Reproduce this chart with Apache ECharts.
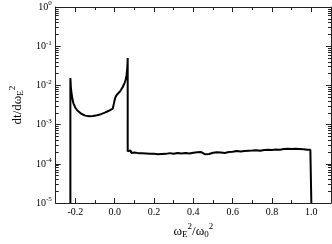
<!DOCTYPE html>
<html><head><meta charset="utf-8">
<script src="https://cdn.jsdelivr.net/npm/echarts@6/dist/echarts.min.js"></script>
<style>html,body{margin:0;padding:0;background:#fff}#c{width:332px;height:244px}</style>
</head><body><div id="c"></div>
<script>
var xs = [-0.2255,-0.2255,-0.223,-0.22,-0.215,-0.21,-0.2,-0.19,-0.18,-0.17,-0.16,-0.15,-0.14,-0.13,-0.12,-0.11,-0.1,-0.09,-0.08,-0.07,-0.06,-0.05,-0.04,-0.03,-0.02,-0.01,0.0,0.002,0.005,0.01,0.02,0.03,0.04,0.05,0.055,0.06,0.063,0.065,0.066,0.066,
0.07,0.075,0.08,0.085,0.09,0.1,0.11,0.12,0.13,0.14,0.15,0.16,0.17,0.18,0.19,0.2,0.21,0.22,0.23,0.24,0.25,0.26,0.28,0.3,0.32,0.34,0.36,0.38,0.4,0.42,0.43,0.44,0.45,0.46,0.47,0.48,0.5,0.52,0.54,0.55,0.56,0.58,0.6,0.62,0.63,0.64,0.66,0.67,0.68,0.7,0.71,0.72,0.74,0.76,0.77,0.78,0.8,0.82,0.84,0.86,0.87,0.88,0.9,0.91,0.92,0.94,0.96,0.97,0.98,0.99,0.995,1.0,1.0];
var ys = [1e-5,0.0155,0.009,0.0065,0.0045,0.0035,0.0027,0.0023,0.00205,0.0019,0.00178,0.0017,0.00166,0.00164,0.00164,0.00166,0.00169,0.00173,0.00178,0.00185,0.00193,0.00202,0.00213,0.00226,0.0024,0.00256,0.0027,0.0048,0.0053,0.0057,0.0064,0.0074,0.009,0.0115,0.0138,0.018,0.025,0.035,0.05,0.00021,
2.15e-4,1.95e-4,2.2e-4,1.9e-4,2.1e-4,1.95e-4,2.1e-4,1.88e-4,2.04e-4,1.86e-4,2.05e-4,1.84e-4,1.98e-4,1.82e-4,1.92e-4,1.8e-4,1.9e-4,1.76e-4,1.92e-4,1.78e-4,1.88e-4,1.8e-4,1.88e-4,1.82e-4,1.9e-4,1.84e-4,1.9e-4,1.85e-4,1.92e-4,1.98e-4,1.84e-4,2.0e-4,1.86e-4,1.76e-4,1.94e-4,1.78e-4,1.92e-4,1.98e-4,1.94e-4,2.1e-4,1.9e-4,2.0e-4,2.04e-4,2.12e-4,1.96e-4,2.06e-4,2.14e-4,2.0e-4,2.16e-4,2.18e-4,2.06e-4,2.24e-4,2.16e-4,2.26e-4,2.12e-4,2.28e-4,2.26e-4,2.32e-4,2.3e-4,2.38e-4,2.32e-4,2.42e-4,2.4e-4,2.34e-4,2.44e-4,2.4e-4,2.36e-4,2.44e-4,2.28e-4,2.42e-4,2.3e-4,2.3e-4,1e-5];
var xMajor = [-0.2,0.0,0.2,0.4,0.6,0.8,1.0];
var xMinor = [-0.1,0.1,0.3,0.5,0.7,0.9];
var yMajor = [1e-5,1e-4,1e-3,1e-2,1e-1,1];
var yMinor = [];
[1e-5,1e-4,1e-3,1e-2,1e-1].forEach(function(d){for(var k=2;k<=9;k++){yMinor.push(+(d*k).toPrecision(3));}});

var F = 'Liberation Serif';
var line = {show:true, onZero:false, lineStyle:{color:'#222', width:1}};
var noLine = {show:false, onZero:false};
function xAx(pos, ticks, len, labels, showLine, extra){
  var a = {type:'value', min:-0.3, max:1.1, position:pos, axisLine: showLine?line:noLine,
    splitLine:{show:false},
    axisTick:{show:true, inside:true, length:len, customValues:ticks, lineStyle:{color:'#222'}},
    axisLabel: labels ? {show:true, customValues:ticks, formatter:function(v){return v.toFixed(1);}, fontFamily:F, fontSize:10, color:'#000', margin:4} : {show:false}};
  return Object.assign(a, extra||{});
}
function yAx(pos, ticks, len, labels, showLine, extra){
  var a = {type:'log', logBase:10, min:1e-5, max:1, position:pos, axisLine: showLine?line:noLine,
    splitLine:{show:false},
    axisTick:{show:true, inside:true, length:len, customValues:ticks, lineStyle:{color:'#222'}},
    axisLabel: labels ? {show:true, customValues:ticks, fontFamily:F, color:'#000', margin:4,
      formatter:function(v){return '{b|10}{s|' + Math.round(Math.log10(v)) + '}';},
      rich:{b:{fontFamily:F, fontSize:10, color:'#000'}, s:{fontFamily:F, fontSize:7, color:'#000', padding:[0,0,7,0]}}} : {show:false}};
  return Object.assign(a, extra||{});
}
var chart = echarts.init(document.getElementById('c'), null, {renderer:'canvas'});
chart.setOption({
  backgroundColor:'#fff',
  animation:false,
  grid:{left:42, right:1, top:5, bottom:35, containLabel:false},
  xAxis:[
    xAx('bottom', xMajor, 5, true, true, {
      name:'ω{sub|E}{sup|2}/ω{sub|0}{sup|2}', nameLocation:'middle', nameGap:18,
      nameTextStyle:{fontFamily:F, fontSize:13, color:'#000',
        rich:{sub:{fontFamily:F, fontSize:9, color:'#000', padding:[6,0,0,0]}, sup:{fontFamily:F, fontSize:9, color:'#000', padding:[0,0,10,0]}}}}),
    xAx('bottom', xMinor, 3, false, false),
    xAx('top', xMajor, 5, false, true),
    xAx('top', xMinor, 3, false, false)
  ],
  yAxis:[
    yAx('left', yMajor, 5, true, true, {
      name:'dt/dω{sub|E}{sup|2}', nameLocation:'middle', nameRotate:90, nameGap:24,
      nameTextStyle:{fontFamily:F, fontSize:13, color:'#000',
        rich:{sub:{fontFamily:F, fontSize:9, color:'#000', padding:[6,0,0,0]}, sup:{fontFamily:F, fontSize:9, color:'#000', padding:[0,0,10,0]}}}}),
    yAx('left', yMinor, 3, false, false),
    yAx('right', yMajor, 5, false, true),
    yAx('right', yMinor, 3, false, false)
  ],
  series:[{
    type:'line', xAxisIndex:0, yAxisIndex:0, showSymbol:false, symbol:'none',
    lineStyle:{color:'#000', width:2}, clip:true,
    data: xs.map(function(x,i){return [x, ys[i]];})
  }]
});
</script></body></html>
